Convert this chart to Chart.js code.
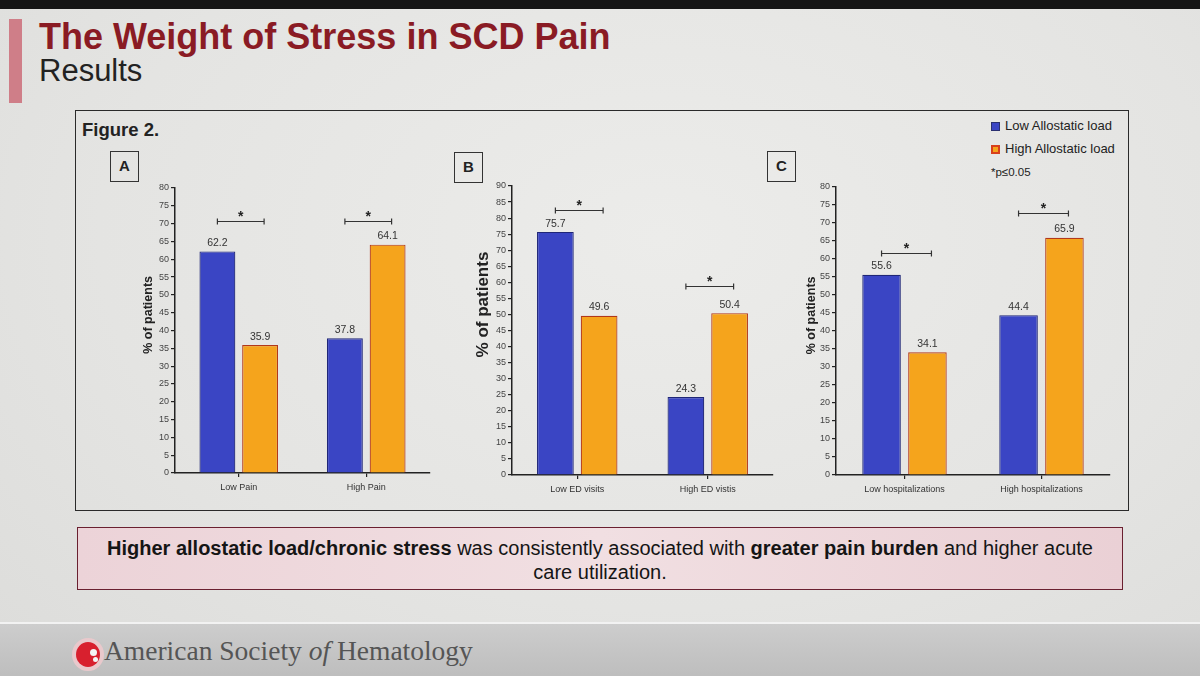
<!DOCTYPE html>
<html>
<head>
<meta charset="utf-8">
<title>The Weight of Stress in SCD Pain</title>
<script src="https://cdn.jsdelivr.net/npm/chart.js@4.4.1/dist/chart.umd.min.js"></script>
<style>
  html, body { margin: 0; padding: 0; background: #000; }
  #slide {
    position: relative; width: 1200px; height: 676px; overflow: hidden;
    background: radial-gradient(ellipse at 55% 35%, #ececea 0%, #e4e4e2 60%, #dcdcda 100%);
    font-family: "Liberation Sans", Arial, sans-serif; color: #222;
  }
  .abs { position: absolute; }
  #topBand { left: 0; top: 0; width: 1200px; height: 9px; background: #151515; }
  #redBar { left: 9px; top: 19px; width: 13px; height: 84px; background: #cf7e88; }
  #title { left: 39px; top: 16px; font-size: 36px; font-weight: bold; color: #8a1b24; white-space: nowrap; }
  #subtitle { left: 39px; top: 53px; font-size: 31px; color: #222; }
  #figBox { left: 75px; top: 110px; width: 1054px; height: 401px; border: 1.5px solid #2a2a2a; box-sizing: border-box; }
  #figLabel { left: 82px; top: 119px; font-size: 18.5px; font-weight: bold; color: #222; }
  .panel { width: 29px; height: 31px; border: 1.5px solid #333; box-sizing: border-box;
           font-size: 15px; font-weight: bold; text-align: center; line-height: 28px; color: #222; }
  canvas { position: absolute; }
  .legItem { font-size: 13px; color: #222; white-space: nowrap; }
  .sw { display: inline-block; width: 9px; height: 9px; box-sizing: border-box; margin-right: 5px; vertical-align: -1px; }
  #note { left: 77px; top: 527px; width: 1046px; height: 63px; box-sizing: border-box;
          border: 1.5px solid #6a2030; background: linear-gradient(90deg, #ecd3d8, #f1dfe2 50%, #ead0d5);
          text-align: center; font-size: 20px; line-height: 24px; padding-top: 8px; color: #151515; }
  #footer { left: 0; top: 622px; width: 1200px; height: 54px; border-top: 2px solid #f2f2f2;
            background: linear-gradient(180deg, #cdcdcd, #bdbdbd); }
  #logoRing { left: 72px; top: 638px; width: 32px; height: 33px; border-radius: 50%; background: #e9c9cc; }
  #logoRed { left: 76px; top: 642px; width: 24px; height: 25px; border-radius: 50%; background: #d8202e; }
  .dot { border-radius: 50%; background: #f4f4f4; }
  #assoc { left: 104px; top: 635px; font-family: "Liberation Serif", "DejaVu Serif", serif; font-size: 27.5px; color: #555; white-space: nowrap; }
</style>
</head>
<body>
<div id="slide">
  <div id="topBand" class="abs"></div>
  <div id="redBar" class="abs"></div>
  <div id="title" class="abs">The Weight of Stress in SCD Pain</div>
  <div id="subtitle" class="abs">Results</div>

  <div id="figBox" class="abs"></div>
  <div id="figLabel" class="abs">Figure 2.</div>
  <div class="abs panel" style="left:110px; top:151px;">A</div>
  <div class="abs panel" style="left:454px; top:152px;">B</div>
  <div class="abs panel" style="left:767px; top:151px;">C</div>

  <canvas id="chartA" width="320" height="320" style="left:120px; top:180px;"></canvas>
  <canvas id="chartB" width="320" height="322" style="left:460px; top:178px;"></canvas>
  <canvas id="chartC" width="340" height="322" style="left:785px; top:178px;"></canvas>

  <div id="legend" class="abs" style="left:991px; top:118px;"></div>

  <div id="note" class="abs">
    <b>Higher allostatic load/chronic stress</b> was consistently associated with <b>greater pain burden</b> and higher acute<br>care utilization.
  </div>

  <div id="footer" class="abs"></div>
  <div id="logoRing" class="abs"></div>
  <div id="logoRed" class="abs"></div>
  <div class="abs dot" style="left:90px; top:649px; width:7px; height:7px;"></div>
  <div class="abs dot" style="left:93px; top:657px; width:5px; height:5px;"></div>
  <div id="assoc" class="abs">American Society <i>of</i> Hematology</div>
</div>

<script>
// valores (% de pacientes)
const seriesLabels = ['Low Allostatic load', 'High Allostatic load'];
const seriesFill = ['#3a45c4', '#f5a41c'];
const seriesBorder = ['#1f2677', '#b2381a'];

const painCategories = ['Low Pain', 'High Pain'];
const painLowLoad = [62.2, 37.8];
const painHighLoad = [35.9, 64.1];
const painMax = 80;
const painBrackets = [70.7, 70.7];

const edCategories = ['Low ED visits', 'High ED vistis'];
const edLowLoad = [75.7, 24.3];
const edHighLoad = [49.6, 50.4];
const edMax = 90;
const edBrackets = [82.5, 58.9];

const hospCategories = ['Low hospitalizations', 'High hospitalizations'];
const hospLowLoad = [55.6, 44.4];
const hospHighLoad = [34.1, 65.9];
const hospMax = 80;
const hospBrackets = [61.7, 72.8];

const tickStep = 5;
const yTitle = '% of patients';
const significanceNote = '*p≤0.05';

const FONT = '"Liberation Sans", Arial, sans-serif';
Chart.defaults.font.family = FONT;

// rótulos de valor e colchetes de significância
function makeMarks(brackets) {
    return {
        id: 'barMarks',
        afterDatasetsDraw(chart) {
            const ctx = chart.ctx;
            const yScale = chart.scales.y;
            ctx.save();
            ctx.fillStyle = '#333';
            ctx.font = '10.5px ' + FONT;
            ctx.textAlign = 'center';
            ctx.textBaseline = 'bottom';
            chart.data.datasets.forEach((ds, di) => {
                chart.getDatasetMeta(di).data.forEach((bar, i) => {
                    ctx.fillText(ds.data[i].toFixed(1), bar.x, bar.y - 3);
                });
            });
            const lowMeta = chart.getDatasetMeta(0);
            const highMeta = chart.getDatasetMeta(1);
            brackets.forEach((v, i) => {
                const x1 = lowMeta.data[i].x;
                const x2 = highMeta.data[i].x + 4;
                const y = Math.round(yScale.getPixelForValue(v)) + 0.5;
                ctx.strokeStyle = '#333';
                ctx.lineWidth = 1.2;
                ctx.beginPath();
                ctx.moveTo(x1, y); ctx.lineTo(x2, y);
                ctx.moveTo(x1, y - 3); ctx.lineTo(x1, y + 3);
                ctx.moveTo(x2, y - 3); ctx.lineTo(x2, y + 3);
                ctx.stroke();
                ctx.fillStyle = '#222';
                ctx.font = 'bold 14px ' + FONT;
                ctx.textBaseline = 'middle';
                ctx.fillText('*', (x1 + x2) / 2, y - 4);
            });
            ctx.restore();
        }
    };
}

function buildChart(id, categories, lowValues, highValues, yMax, brackets, geo) {
    const ctx = document.getElementById(id).getContext('2d');
    const datasets = [lowValues, highValues].map((values, i) => ({
        label: seriesLabels[i],
        data: values,
        backgroundColor: seriesFill[i],
        borderColor: seriesBorder[i],
        borderWidth: 1.2,
        borderSkipped: 'bottom',
        categoryPercentage: 0.67,
        barPercentage: 0.84
    }));

    // espaços à esquerda sobem o título do eixo, como na figura original
    const titleText = '\u00a0'.repeat(geo.titleShift) + yTitle;

    return new Chart(ctx, {
        type: 'bar',
        data: { labels: categories, datasets: datasets },
        options: {
            responsive: false,
            animation: false,
            layout: { padding: { top: geo.top, right: geo.right, left: 0, bottom: 0 } },
            plugins: { legend: { display: false }, tooltip: { enabled: false } },
            scales: {
                x: {
                    grid: { display: true, drawOnChartArea: false, offset: false, tickLength: 4, color: '#222', lineWidth: 1.2 },
                    border: { display: true, color: '#222', width: 1.5 },
                    ticks: { color: '#333', font: { size: 9 }, padding: 5, maxRotation: 0 },
                    afterFit: scale => { scale.height = geo.xHeight; }
                },
                y: {
                    min: 0,
                    max: yMax,
                    grid: { display: true, drawOnChartArea: false, tickLength: 4, color: '#222', lineWidth: 1.2 },
                    border: { display: true, color: '#222', width: 1.5 },
                    ticks: { stepSize: tickStep, color: '#444', font: { size: 9 }, padding: 2 },
                    title: {
                        display: true,
                        text: titleText,
                        color: '#222',
                        font: { size: geo.titleSize, weight: 'bold' },
                        padding: { top: geo.titlePad, bottom: 0 }
                    },
                    afterFit: scale => { scale.width = geo.yWidth; }
                }
            }
        },
        plugins: [makeMarks(brackets)]
    });
}

function buildLegend() {
    const legend = document.getElementById('legend');
    seriesLabels.forEach((label, i) => {
        const row = document.createElement('div');
        row.className = 'legItem';
        row.style.height = '23px';
        const sw = document.createElement('span');
        sw.className = 'sw';
        sw.style.background = seriesFill[i];
        sw.style.border = (i === 0 ? '1px' : '2px') + ' solid ' + (i === 0 ? '#2a3070' : '#d8401c');
        row.appendChild(sw);
        row.appendChild(document.createTextNode(label));
        legend.appendChild(row);
    });
    const note = document.createElement('div');
    note.className = 'legItem';
    note.style.fontSize = '11.5px';
    note.style.marginTop = '2px';
    note.textContent = significanceNote;
    legend.appendChild(note);
}

buildChart('chartA', painCategories, painLowLoad, painHighLoad, painMax, painBrackets,
    { top: 8, right: 10, xHeight: 27, yWidth: 55, titleSize: 12.5, titlePad: 21, titleShift: 9 });
buildChart('chartB', edCategories, edLowLoad, edHighLoad, edMax, edBrackets,
    { top: 8, right: 7, xHeight: 25, yWidth: 52, titleSize: 17, titlePad: 13, titleShift: 11 });
buildChart('chartC', hospCategories, hospLowLoad, hospHighLoad, hospMax, hospBrackets,
    { top: 9, right: 15, xHeight: 25, yWidth: 51, titleSize: 12.5, titlePad: 19, titleShift: 9 });
buildLegend();
</script>
</body>
</html>
